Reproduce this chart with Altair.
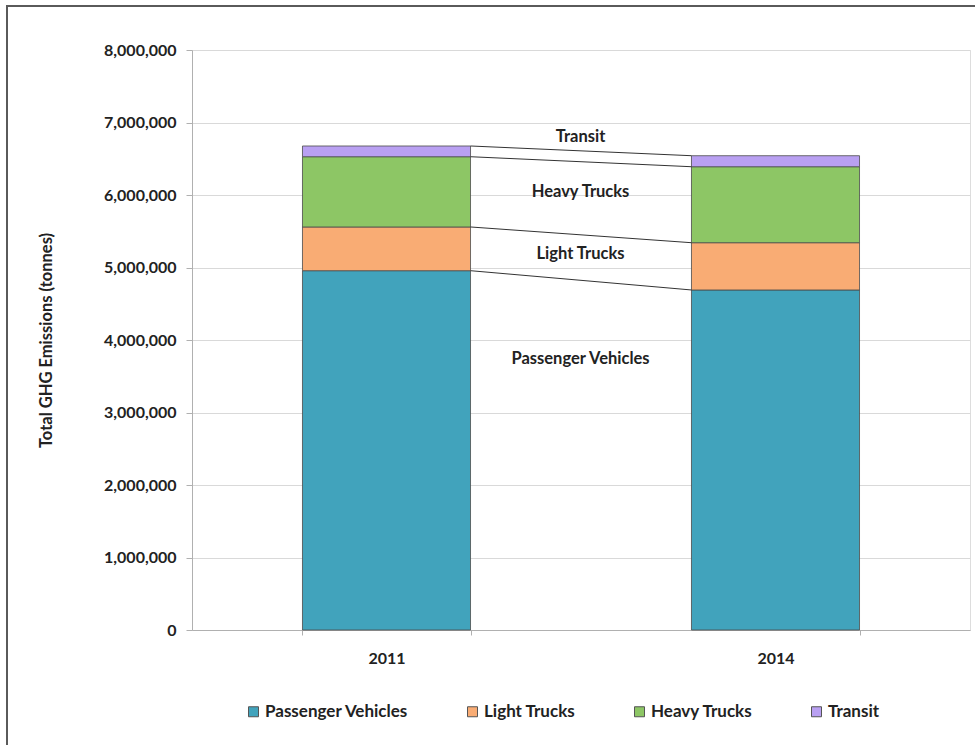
import altair as alt
import pandas as pd

years = ["2011", "2014"]
categories = ["Passenger Vehicles", "Light Trucks", "Heavy Trucks", "Transit"]
colors = ["#41A3BC", "#F9AC74", "#8DC665", "#B9A0F2"]

passenger = [4956000, 4690000]
light = [603000, 652000]
heavy = [969000, 1048000]
transit = [148000, 152000]

label_text = ["Transit", "Heavy Trucks", "Light Trucks", "Passenger Vehicles"]
label_y = [6800000, 6040000, 5190000, 3740000]

y_ticks = [0, 1000000, 2000000, 3000000, 4000000, 5000000, 6000000, 7000000, 8000000]

series = [passenger, light, heavy, transit]

rows = []
for ci, (cat, vals) in enumerate(zip(categories, series)):
    for yi, yr in enumerate(years):
        rows.append({"year": yr, "category": cat, "value": vals[yi], "order": ci})
bars_df = pd.DataFrame(rows)

# cumulative boundaries for connector lines
conn = []
c1, c2 = 0, 0
for vals in series:
    c1 += vals[0]
    c2 += vals[1]
    conn.append({"a": years[0], "b": years[1], "y1": c1, "y2": c2})
conn_df = pd.DataFrame(conn)

lab_df = pd.DataFrame({"a": [years[0]] * len(label_text), "text": label_text, "y": label_y})

FONT = "Lato"
FS = 16.5

xscale = alt.Scale(domain=years, paddingInner=0.568, paddingOuter=0.284)
yscale = alt.Scale(domain=[0, 8000000], nice=False)

bars = alt.Chart(bars_df).mark_bar(stroke="#4a4a4a", strokeWidth=0.8).encode(
    x=alt.X("year:N", scale=xscale, sort=years,
            axis=alt.Axis(title=None, labelAngle=0, tickBand="extent", tickSize=5,
                          labelPadding=15, labelFont=FONT, labelFontSize=16,
                          labelFontWeight="bold", labelColor="#222",
                          domainColor="#b0b0b0", tickColor="#b0b0b0", grid=False)),
    y=alt.Y("value:Q", scale=yscale, stack="zero",
            axis=alt.Axis(title="Total GHG Emissions (tonnes)",
                          values=y_ticks,
                          format=",.0f", labelFont=FONT, labelFontSize=16, labelFontWeight="bold",
                          labelColor="#222", labelPadding=10, tickSize=6,
                          tickColor="#b0b0b0", domainColor="#b0b0b0",
                          gridColor="#d9d9d9", grid=True,
                          titleFont=FONT, titleFontSize=16.5, titleFontWeight="bold",
                          titleColor="#222", titleX=-146, titleY=290, titleAngle=270,
                          titleAlign="center", titleBaseline="middle")),
    color=alt.Color("category:N", scale=alt.Scale(domain=categories, range=colors),
                    legend=alt.Legend(title=None, orient="none", legendX=53, legendY=653,
                                      direction="horizontal", columns=4, columnPadding=55,
                                      symbolType="square", symbolSize=100,
                                      symbolStrokeColor="#555", symbolStrokeWidth=1,
                                      labelFont=FONT, labelFontSize=17, labelFontWeight="bold",
                                      labelColor="#222", labelOffset=3)),
    order=alt.Order("order:Q", sort="ascending"),
)

connectors = alt.Chart(conn_df).mark_rule(color="#333", strokeWidth=1).encode(
    x=alt.X("a:N", scale=xscale, bandPosition=1),
    x2=alt.X2("b:N", bandPosition=0),
    y=alt.Y("y1:Q", scale=yscale),
    y2=alt.Y2("y2:Q"),
)

labels = alt.Chart(lab_df).mark_text(font=FONT, fontSize=FS, fontWeight="bold",
                                     color="#222", align="center", baseline="middle",
                                     dx=110).encode(
    x=alt.X("a:N", scale=xscale, bandPosition=1),
    y=alt.Y("y:Q", scale=yscale),
    text="text:N",
)

frame = alt.Chart(pd.DataFrame({"k": [0]})).mark_rect(
    fill="transparent", stroke="#5a5a5a", strokeWidth=2
).encode(
    x=alt.value(-185), x2=alt.value(800), y=alt.value(-44), y2=alt.value(720)
)

chart = alt.layer(frame, bars, connectors, labels).properties(
    width=778, height=580, autosize="none",
    padding={"left": 192, "top": 50, "right": 5, "bottom": 115},
).configure_view(stroke=None).configure(background="white")

chart.save("out.html", embed_options={"renderer": "svg", "actions": False})
